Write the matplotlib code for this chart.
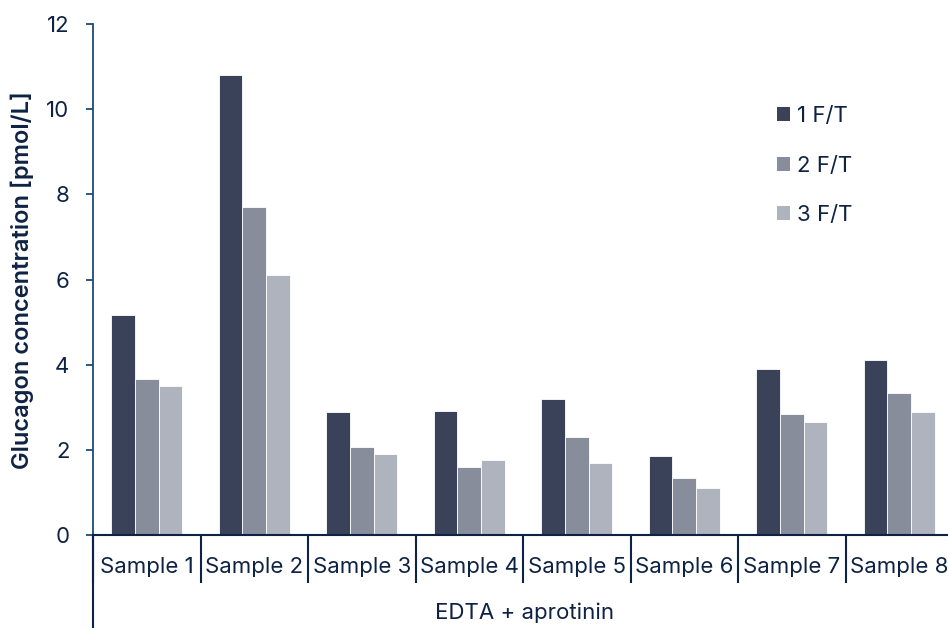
import matplotlib
matplotlib.use("Agg")
import matplotlib.pyplot as plt
import matplotlib.transforms as mtransforms
from matplotlib.patches import Patch
import numpy as np

categories = ["Sample 1", "Sample 2", "Sample 3", "Sample 4",
              "Sample 5", "Sample 6", "Sample 7", "Sample 8"]
series_names = ["1 F/T", "2 F/T", "3 F/T"]
ft1 = [5.17, 10.8, 2.88, 2.92, 3.19, 1.86, 3.89, 4.12]
ft2 = [3.66, 7.70, 2.07, 1.60, 2.30, 1.35, 2.84, 3.34]
ft3 = [3.50, 6.10, 1.91, 1.76, 1.68, 1.10, 2.65, 2.90]
colors = ["#394259", "#888d9c", "#aeb3bd"]
group_label = "EDTA + aprotinin"
y_label = "Glucagon concentration [pmol/L]"
y_ticks = [0, 2, 4, 6, 8, 10, 12]

plt.rcParams['font.family'] = ['Inter', 'DejaVu Sans']
text_color = "#0e2244"
yaxis_color = "#1f4a7a"
fs = 16

W, H = 948, 628
fig = plt.figure(figsize=(W / 100, H / 100), dpi=100)
left, right, top, bottom = 93, 953, 24, 535
ax = fig.add_axes([left / W, (H - bottom) / H, (right - left) / W, (bottom - top) / H])

x = np.arange(len(categories))
bw = 0.22
for i, (vals, c) in enumerate(zip([ft1, ft2, ft3], colors)):
    ax.bar(x + (i - 1) * bw, vals, width=bw, color=c, edgecolor="white",
           linewidth=0.6, zorder=2)

ax.set_xlim(-0.5, len(categories) - 0.5)
ax.set_ylim(0, 12)
ax.set_yticks(y_ticks)
ax.set_yticklabels([str(t) for t in y_ticks])

for s in ["top", "right"]:
    ax.spines[s].set_visible(False)
ax.spines["left"].set_color(yaxis_color)
ax.spines["left"].set_linewidth(1.3)
ax.spines["bottom"].set_color(text_color)
ax.spines["bottom"].set_linewidth(1.5)

ax.tick_params(axis="y", direction="out", length=5, width=1.3, color=yaxis_color,
               labelsize=fs, labelcolor=text_color, pad=12)
ax.set_xticks(x)
ax.set_xticklabels(categories)
ax.tick_params(axis="x", which="major", length=0, pad=16, labelsize=fs,
               labelcolor=text_color)
ax.set_xticks(np.arange(len(categories) + 1) - 0.5, minor=True)
ax.tick_params(axis="x", which="minor", direction="out", length=34.5, width=1.5,
               color=text_color)

# left spine extension down to the bottom of the figure
trans = mtransforms.blended_transform_factory(ax.transData, ax.transAxes)
ax.plot([-0.5, -0.5], [0, -(H - bottom) / (bottom - top)], transform=trans,
        color=text_color, linewidth=1.5, clip_on=False)

fig.text(525 / W, 1 - 613 / H, group_label, ha="center", va="center",
         fontsize=fs, color=text_color)
fig.text(22 / W, 1 - 280 / H, y_label, rotation=90, ha="center", va="center",
         fontsize=fs + 1, color=text_color, fontweight="semibold")

handles = [Patch(facecolor=c, edgecolor="none") for c in colors]
leg = fig.legend(handles, series_names, loc="upper left",
                 bbox_to_anchor=(757 / W, 1 - 86 / H), frameon=False,
                 fontsize=fs, handlelength=0.6, handleheight=0.6,
                 handletextpad=0.3, labelspacing=1.33)
for t in leg.get_texts():
    t.set_color(text_color)

fig.savefig("out.png", dpi=100)
